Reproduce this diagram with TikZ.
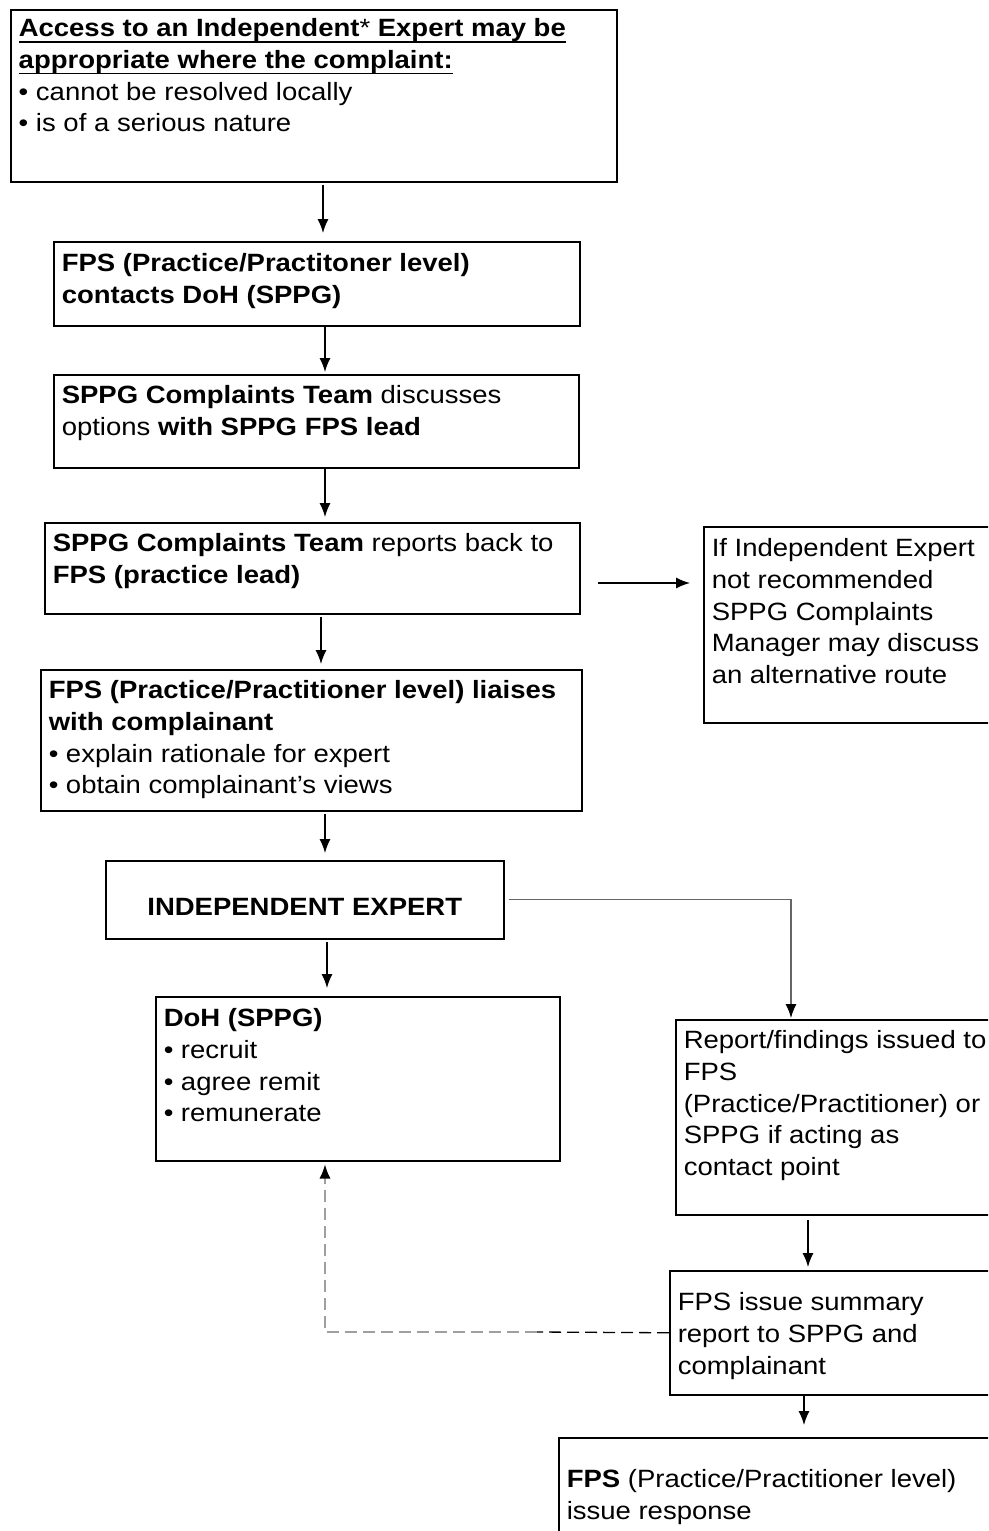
\documentclass[tikz,border=0pt]{standalone}
\usepackage{fontspec}
\setmainfont{Liberation Sans}[FakeStretch=1.1]
\usetikzlibrary{arrows.meta}

\newcommand{\ulbold}[1]{\leavevmode\setbox0=\hbox{\textbf{#1}}\rlap{\rule[-6pt]{\wd0}{1.6pt}}\box0}
% width, height, first baseline, text
\newcommand{\boxtext}[4]{\parbox[t][#2pt][t]{\dimexpr#1pt-16pt\relax}{\raggedright\rule{0pt}{#3pt}#4}}

\begin{document}
\begin{tikzpicture}[x=1pt, y=-1pt,
  box/.style={draw, line width=1.5pt, anchor=north west, inner xsep=8pt, inner ysep=0pt,
    font=\fontsize{25pt}{31.7pt}\selectfont},
  arr/.style={line width=1.3pt, -{Latex[length=14pt,width=11pt,color=black]}, shorten >=5pt},
  dashline/.style={line width=1.3pt, dash pattern=on 12pt off 6pt}]

\useasboundingbox (0,0) rectangle (988,1531);
\clip (0,0) rectangle (988,1531);

% left column
\node[box] (access) at (10,9) {\boxtext{606}{172}{27}{%
  \ulbold{Access to an Independent{\mdseries*} Expert may be}\\
  \ulbold{appropriate where the complaint:}\\
  • cannot be resolved locally\\
  • is of a serious nature}};
\node[box] (fps) at (53,241) {\boxtext{526}{84}{30}{%
  \textbf{FPS (Practice/Practitoner level)}\\
  \textbf{contacts DoH (SPPG)}}};
\node[box] (team) at (53,374) {\boxtext{525}{93}{29}{%
  \textbf{SPPG Complaints Team} discusses\\
  options \textbf{with SPPG FPS lead}}};
\node[box] (repback) at (44,522) {\boxtext{535}{91}{29}{%
  \textbf{SPPG Complaints Team} reports back to\\
  \textbf{FPS (practice lead)}}};
\node[box] (liaise) at (40,669) {\boxtext{541}{141}{29}{%
  \textbf{FPS (Practice/Practitioner level) liaises}\\
  \textbf{with complainant}\\
  • explain rationale for expert\\
  • obtain complainant's views}};
\node[box] (expert) at (105,860) {\boxtext{398}{78}{55}{%
  \centering\textbf{INDEPENDENT EXPERT}}};
\node[box] (doh) at (155,996) {\boxtext{404}{164}{30}{%
  \textbf{DoH (SPPG)}\\
  • recruit\\
  • agree remit\\
  • remunerate}};

% right column
\node[box] (alt) at (703,526) {\boxtext{300}{196}{30}{%
  If Independent Expert\\
  not recommended\\
  SPPG Complaints\\
  Manager may discuss\\
  an alternative route}};
\node[box] (findings) at (675,1019) {\boxtext{330}{195}{29}{%
  Report/findings issued to\\
  FPS\\
  (Practice/Practitioner) or\\
  SPPG if acting as\\
  contact point}};
\node[box] (summary) at (669,1270) {\boxtext{330}{124}{40}{%
  FPS issue summary\\
  report to SPPG and\\
  complainant}};
\node[box] (response) at (558,1437) {\boxtext{440}{110}{50}{%
  \textbf{FPS} (Practice/Practitioner level)\\
  issue response}};

% arrow columns
\coordinate (xa) at (323,0);
\coordinate (xb) at (325,0);
\coordinate (xc) at (321,0);
\coordinate (xd) at (327,0);
\coordinate (xe) at (791,0);
\coordinate (xf) at (808,0);
\coordinate (xg) at (804,0);
\coordinate (side) at (598,583);
\coordinate (dmid) at (537,1332);

\draw[arr, shorten >=8pt] ([yshift=-2pt]access.south -| xa) -- (fps.north -| xa);
\draw[arr, shorten >=2pt] (fps.south -| xb) -- (team.north -| xb);
\draw[arr] (team.south -| xb) -- (repback.north -| xb);
\draw[arr] ([yshift=-2pt]repback.south -| xc) -- (liaise.north -| xc);
\draw[arr, shorten >=7pt] ([yshift=-2pt]liaise.south -| xb) -- (expert.north -| xb);
\draw[arr, shorten >=8pt] ([yshift=-2pt]expert.south -| xd) -- (doh.north -| xd);
\draw[arr, shorten >=13pt] (side) -- (side -| alt.west);
\draw[arr, black!60, shorten >=1pt] ([xshift=4pt]expert.east) -| (xe |- findings.north);
\draw[arr, shorten >=3pt] ([yshift=-4pt]findings.south -| xf) -- (summary.north -| xf);
\draw[arr, shorten >=12pt] (summary.south -| xg) -- (response.north -| xg);

% dashed return line
\draw[dashline] (summary.west) -- (dmid);
\draw[dashline, gray!75, -{Latex[length=14pt,width=11pt,color=black]}, shorten >=3pt]
  (dmid) -| (xb |- doh.south);

\end{tikzpicture}
\end{document}
